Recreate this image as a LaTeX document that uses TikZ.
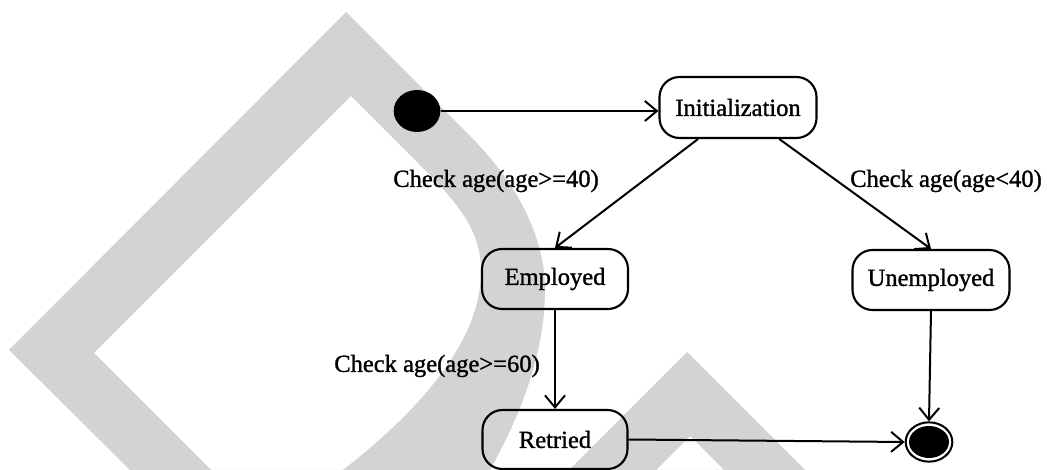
\documentclass[tikz,border=0pt]{standalone}
\usepackage{fontspec}
\setmainfont{Liberation Serif}[FakeBold=1.2]
\usetikzlibrary{arrows.meta,shapes.geometric}
\definecolor{bandgray}{RGB}{211,211,211}
\begin{document}
\begin{tikzpicture}[x=0.75pt,y=-0.75pt,
  labelfont/.style={font=\fontsize{18.4}{22}\selectfont},
  state/.style={draw=black, line width=1.6pt, rounded corners=15pt,
    inner sep=0pt, minimum height=45pt, labelfont},
  guard/.style={inner sep=0pt, labelfont},
  startdot/.style={ellipse, fill=black, inner sep=0pt,
    minimum width=35pt, minimum height=31.5pt},
  endring/.style={ellipse, draw=black, line width=1.5pt, inner sep=0pt,
    minimum width=35pt, minimum height=29.5pt},
  endcore/.style={ellipse, fill=black, inner sep=0pt,
    minimum width=30pt, minimum height=24pt},
  flow/.style={line width=1.5pt,
    -{Straight Barb[length=9pt,width=15pt,line width=1.5pt]}}
]
\useasboundingbox (0,0) rectangle (1047,470);
\fill[white] (0,0) rectangle (1047,470);

% light grey band shapes in the background
\fill[bandgray, even odd rule]
  (346,12) -- (9,350) -- (130,470) -- (490,470)
    .. controls (515,425) and (545,360) .. (545,290)
    .. controls (545,230) and (510,176) .. (470,136) -- cycle
  (351,96) -- (94,353) -- (211,470) -- (343,470)
    .. controls (420,410) and (482,340) .. (481,270)
    .. controls (481,225) and (450,195) .. (410,155) -- cycle;
\fill[bandgray, even odd rule]
  (687,352) -- (569,470) -- (805,470) -- cycle
  (690,436) -- (656,470) -- (724,470) -- cycle;

% states
\node[startdot] (start) at (417,111) {};
\node[state, minimum width=117.75pt, minimum height=45.75pt] (init) at (738,107.5) {Initialization};
\node[state, minimum width=109.5pt] (emp) at (555,279) {Employed};
\node[state, minimum width=117.75pt] (unemp) at (931,280) {Unemployed};
\node[state, minimum width=108.75pt, minimum height=44.25pt] (ret) at (555,439.5) {Retried};
\node[endring] (final) at (929,442) {};
\node[endcore] (finalcore) at (final.center) {};

% guards
\node[guard] (g40) at (496,181) {Check age(age>=40)};
\node[guard] (gl40) at (946,181) {Check age(age<40)};
\node[guard] (g60) at (437,366) {Check age(age>=60)};

% transitions
\draw[flow] (start.east) -- (start.east -| init.west);
\draw[flow] ([xshift=-30pt]init.south) -- (emp.north);
\draw[flow] ([xshift=31pt]init.south) -- (unemp.north);
\draw[flow] (emp.south) -- (ret.north);
\draw[flow] (unemp.south) -- (final.north);
\draw[flow] (ret.east) -- (final.west);
\end{tikzpicture}
\end{document}
